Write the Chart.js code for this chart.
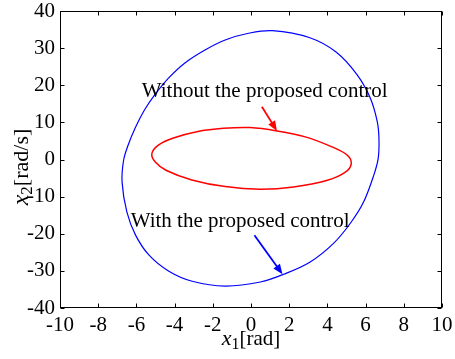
<!DOCTYPE html>
<html>
<head>
<meta charset="utf-8">
<script src="https://cdn.jsdelivr.net/npm/chart.js@4"></script>
<style>
  html, body { margin: 0; padding: 0; background: #fff; }
  #wrap { width: 455px; height: 359px; }
</style>
</head>
<body>
<div id="wrap"><canvas id="c" width="455" height="359"></canvas></div>
<script>
// Phase-plane trajectories (x1 in rad, x2 in rad/s)
const withCtrlX = [-1.35, -0.13, 1.12, 3.08, 4.47, 5.56, 6.25, 6.61, 6.70, 6.66, 6.43, 5.90, 5.24, 4.32, 3.10, 1.72, 0.49, -1.35, -3.08, -4.30, -5.35, -6.05, -6.50, -6.75, -6.67, -6.43, -6.07, -5.57, -5.04, -4.32, -3.46, -2.41];
const withCtrlY = [32.2, 34.0, 34.7, 32.8, 28.9, 22.8, 16.5, 10.2, 5.6, 0.3, -4.2, -11.4, -16.9, -22.6, -27.6, -30.9, -33.0, -34.1, -32.8, -30.1, -25.7, -20.3, -14.1, -6.1, -0.2, 3.9, 8.4, 13.4, 17.4, 21.9, 26.0, 29.5];

const withoutCtrlX = [-5.19, -4.85, -4.06, -2.84, -1.44, -0.04, 1.36, 2.84, 4.24, 5.03, 5.25, 4.94, 4.00, 2.23, 0.48, -1.35, -3.10, -4.45, -5.02];
const withoutCtrlY = [1.6, 3.9, 5.8, 7.5, 8.4, 8.6, 7.7, 6.1, 3.4, 1.2, -1.1, -3.4, -5.6, -7.4, -8.0, -7.3, -5.5, -2.9, -0.6];

const xTicks = [-10, -8, -6, -4, -2, 0, 2, 4, 6, 8, 10];
const yTicks = [-40, -30, -20, -10, 0, 10, 20, 30, 40];

const labelWithout = "Without the proposed control";
const labelWith = "With the proposed control";

const SERIF = "'Liberation Serif', 'Times New Roman', serif";

function points(xs, ys) {
  return xs.map((v, i) => ({ x: v, y: ys[i] }));
}

// both trajectories are closed orbits: let the line element wrap its spline around
const closedOrbits = {
  id: 'closedOrbits',
  beforeDatasetsDraw(chart) {
    chart.data.datasets.forEach((ds, i) => {
      const line = chart.getDatasetMeta(i).dataset;
      if (!line) return;
      line._loop = true;
      line._fullLoop = true;
      line._pointsUpdated = false;
      delete line._segments;
      delete line._path;
    });
  }
};

// draws a row of text pieces (each with its own font and vertical shift)
function drawPieces(ctx, pieces, x, y, align) {
  let total = 0;
  pieces.forEach(p => { ctx.font = p.font; total += ctx.measureText(p.text).width; });
  let cx = align === 'center' ? x - total / 2 : x;
  ctx.textBaseline = 'alphabetic';
  ctx.textAlign = 'left';
  pieces.forEach(p => {
    ctx.font = p.font;
    ctx.fillText(p.text, cx, y + (p.dy || 0));
    cx += ctx.measureText(p.text).width;
  });
}

function arrow(ctx, x0, y0, x1, y1, color) {
  const ang = Math.atan2(y1 - y0, x1 - x0);
  const head = 10, half = 4;
  ctx.strokeStyle = color;
  ctx.fillStyle = color;
  ctx.lineWidth = 1.8;
  ctx.beginPath();
  ctx.moveTo(x0, y0);
  ctx.lineTo(x1 - head * Math.cos(ang) * 0.8, y1 - head * Math.sin(ang) * 0.8);
  ctx.stroke();
  ctx.beginPath();
  ctx.moveTo(x1, y1);
  ctx.lineTo(x1 - head * Math.cos(ang) + half * Math.sin(ang), y1 - head * Math.sin(ang) - half * Math.cos(ang));
  ctx.lineTo(x1 - head * Math.cos(ang) - half * Math.sin(ang), y1 - head * Math.sin(ang) + half * Math.cos(ang));
  ctx.closePath();
  ctx.fill();
}

const frame = {
  id: 'frame',
  afterDraw(chart) {
    const { ctx, chartArea: a, scales: { x, y } } = chart;
    ctx.save();
    const L = Math.round(a.left) + 0.5, R = Math.round(a.right) - 0.5;
    const T = Math.round(a.top) + 0.5, B = Math.round(a.bottom) - 0.5;
    ctx.strokeStyle = '#000';
    ctx.lineWidth = 1;
    ctx.strokeRect(L, T, R - L, B - T);
    const tl = 4;
    ctx.beginPath();
    xTicks.forEach(v => {
      const px = Math.round(x.getPixelForValue(v)) + 0.5;
      ctx.moveTo(px, B); ctx.lineTo(px, B - tl);
      ctx.moveTo(px, T); ctx.lineTo(px, T + tl);
    });
    yTicks.forEach(v => {
      const py = Math.round(y.getPixelForValue(v)) + 0.5;
      ctx.moveTo(L, py); ctx.lineTo(L + tl, py);
      ctx.moveTo(R, py); ctx.lineTo(R - tl, py);
    });
    ctx.stroke();

    // annotations
    ctx.fillStyle = '#000';
    ctx.font = '21px ' + SERIF;
    ctx.textAlign = 'left';
    ctx.textBaseline = 'alphabetic';
    ctx.fillText(labelWithout, x.getPixelForValue(-5.72), y.getPixelForValue(16.9));
    ctx.fillText(labelWith, x.getPixelForValue(-6.3), y.getPixelForValue(-18.2));
    arrow(ctx, x.getPixelForValue(0.57), y.getPixelForValue(14.2), x.getPixelForValue(1.36), y.getPixelForValue(7.7), '#ff0000');
    arrow(ctx, x.getPixelForValue(0.18), y.getPixelForValue(-20.4), x.getPixelForValue(1.65), y.getPixelForValue(-30.9), '#0000ff');

    // axis titles
    ctx.fillStyle = '#000';
    const cx = (a.left + a.right) / 2;
    drawPieces(ctx, [
      { text: 'x', font: 'italic 22px ' + SERIF },
      { text: '1', font: '16px ' + SERIF, dy: 4 },
      { text: '[rad]', font: '21px ' + SERIF }
    ], cx, 345, 'center');
    ctx.save();
    ctx.translate(28, 167);
    ctx.rotate(-Math.PI / 2);
    drawPieces(ctx, [
      { text: 'x', font: 'italic 24px ' + SERIF },
      { text: '2', font: '17px ' + SERIF, dy: 4 },
      { text: '[rad/s]', font: '22px ' + SERIF }
    ], 0, 0, 'center');
    ctx.restore();
    ctx.restore();
  }
};

new Chart(document.getElementById('c'), {
  type: 'line',
  data: {
    datasets: [
      {
        label: labelWith,
        data: points(withCtrlX, withCtrlY),
        borderColor: '#0000ff',
        borderWidth: 1.2,
        pointRadius: 0,
        tension: 0.35,
        fill: false
      },
      {
        label: labelWithout,
        data: points(withoutCtrlX, withoutCtrlY),
        borderColor: '#ff0000',
        borderWidth: 1.5,
        pointRadius: 0,
        tension: 0.35,
        fill: false
      }
    ]
  },
  options: {
    responsive: false,
    animation: false,
    layout: { padding: { top: 11, right: 13, left: 0, bottom: 0 } },
    plugins: { legend: { display: false }, tooltip: { enabled: false } },
    scales: {
      x: {
        type: 'linear', min: -10, max: 10,
        afterBuildTicks(s) { s.ticks = xTicks.map(v => ({ value: v })); },
        afterFit(s) { s.height = 51; s.paddingLeft = 0; s.paddingRight = 0; },
        grid: { display: false, drawTicks: false },
        border: { display: false },
        ticks: { color: '#000', font: { family: SERIF, size: 21 }, padding: 5, maxRotation: 0, autoSkip: false }
      },
      y: {
        type: 'linear', min: -40, max: 40,
        afterBuildTicks(s) { s.ticks = yTicks.map(v => ({ value: v })); },
        afterFit(s) { s.width = 60; s.paddingTop = 0; s.paddingBottom = 0; },
        grid: { display: false, drawTicks: false },
        border: { display: false },
        ticks: { color: '#000', font: { family: SERIF, size: 21 }, padding: 5, autoSkip: false }
      }
    }
  },
  plugins: [closedOrbits, frame]
});
</script>
</body>
</html>
